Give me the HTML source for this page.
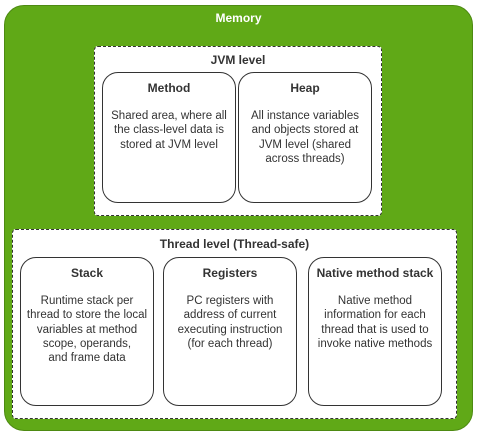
<!DOCTYPE html>
<html><head><style>
body{margin:0;width:479px;height:440px;background:#fff;font-family:"Liberation Sans",Arial,sans-serif;position:relative;overflow:hidden}
div{position:absolute;box-sizing:border-box}
.g{left:4px;top:5px;width:469px;height:426px;background:#60a917;border:1px solid #4d8a12;border-radius:20px}
.d{background:#fff;border:1.5px dashed #333;border-radius:4px}
.b{background:#fff;border:1.5px solid #333;border-radius:16px;text-align:center;font-size:11.5px;color:#333;line-height:14.2px;white-space:nowrap}
.b h{display:block;font-weight:bold;font-size:12px;margin-top:8px;margin-bottom:14px}
.t{font-weight:bold;font-size:12px;color:#333;text-align:center}
</style></head><body>
<div class="g"></div>
<div class="t" style="left:4px;width:469px;top:11px;color:#fff">Memory</div>
<div class="d" style="left:94px;top:46px;width:288px;height:170px"></div>
<div class="t" style="left:94px;width:288px;top:53px">JVM level</div>
<div class="b" style="left:102px;top:72px;width:134px;height:131px"><h>Method</h>Shared area, where all<br>the class-level data is<br>stored at JVM level</div>
<div class="b" style="left:238px;top:72px;width:134px;height:131px"><h>Heap</h>All instance variables<br>and objects stored at<br>JVM level (shared<br>across threads)</div>
<div class="d" style="left:12px;top:229px;width:445px;height:190px"></div>
<div class="t" style="left:12px;width:445px;top:237px">Thread level (Thread-safe)</div>
<div class="b" style="left:20px;top:257px;width:134px;height:149px"><h>Stack</h>Runtime stack per<br>thread to store the local<br>variables at method<br>scope, operands,<br>and frame data</div>
<div class="b" style="left:163px;top:257px;width:134px;height:149px"><h>Registers</h>PC registers with<br>address of current<br>executing instruction<br>(for each thread)</div>
<div class="b" style="left:308px;top:257px;width:134px;height:149px"><h>Native method stack</h>Native method<br>information for each<br>thread that is used to<br>invoke native methods</div>
</body></html>
